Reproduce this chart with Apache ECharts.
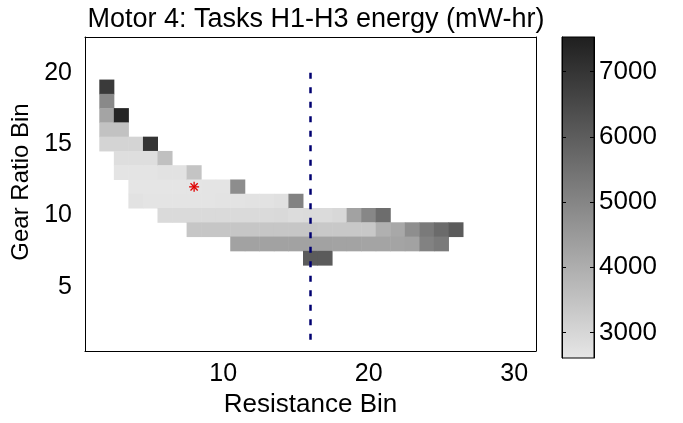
<!DOCTYPE html>
<html>
<head>
<meta charset="utf-8">
<script src="https://cdn.jsdelivr.net/npm/echarts@6/dist/echarts.min.js"></script>
<style>
  html, body { margin: 0; padding: 0; background: #fff; }
  #main { width: 683px; height: 423px; }
</style>
</head>
<body>
<div id="main"></div>
<script>
// bins
var xBins = ['1','2','3','4','5','6','7','8','9','10','11','12','13','14','15','16',
             '17','18','19','20','21','22','23','24','25','26','27','28','29','30','31'];
var yBins = ['1','2','3','4','5','6','7','8','9','10','11','12','13','14','15','16',
             '17','18','19','20','21','22'];
var xTicks = ['10', '20', '30'];
var yTicks = ['5', '10', '15', '20'];

// [resistance bin, gear ratio bin, energy mW-hr]
var energy = [
  [2,19,6850],[2,18,4920],[2,17,4230],[2,16,3500],[2,15,3050],
  [3,17,7380],[3,16,3500],[3,15,3050],[3,14,2810],[3,13,2660],
  [4,15,3050],[4,14,2810],[4,13,2660],[4,12,2640],[4,11,2700],
  [5,15,7010],[5,14,2810],[5,13,2660],[5,12,2640],[5,11,2660],
  [6,14,3550],[6,13,2700],[6,12,2640],[6,11,2660],[6,10,2900],
  [7,13,2700],[7,12,2640],[7,11,2660],[7,10,2900],
  [8,13,3450],[8,12,2640],[8,11,2660],[8,10,2900],[8,9,3400],
  [9,12,2650],[9,11,2670],[9,10,2900],[9,9,3400],
  [10,12,2670],[10,11,2680],[10,10,2900],[10,9,3400],
  [11,12,4820],[11,11,2690],[11,10,2900],[11,9,3400],[11,8,4280],
  [12,11,2700],[12,10,2900],[12,9,3400],[12,8,4280],
  [13,11,2710],[13,10,2910],[13,9,3400],[13,8,4280],
  [14,11,2760],[14,10,2920],[14,9,3400],[14,8,4280],
  [15,11,5070],[15,10,2860],[15,9,3400],[15,8,4280],
  [16,10,2880],[16,9,3400],[16,8,4280],[16,7,6050],
  [17,10,2890],[17,9,3350],[17,8,4280],[17,7,6050],
  [18,10,2950],[18,9,3350],[18,8,4260],
  [19,10,4280],[19,9,3350],[19,8,4260],
  [20,10,4970],[20,9,3350],[20,8,4250],
  [21,10,5610],[21,9,3940],[21,8,4250],
  [22,9,4140],[22,8,4250],
  [23,9,4780],[23,8,4280],
  [24,9,5270],[24,8,5070],
  [25,9,5660],[25,8,5270],
  [26,9,6050]
];

// colour limits and colorbar ticks
var cMin = 2609;
var cMax = 7529;
var cbarTicks = [3000, 4000, 5000, 6000, 7000];
var grays = ['#e6e6e6', '#1f1f1f'];

// optimum marker and the dashed limit line
var optimum = [['8', '12']];
var limitLine = [['16', '20'], ['16', '1']];

var font = 'Liberation Sans, Arial, sans-serif';

window.onload = function() {
  var myChart = echarts.init(document.getElementById('main'));

  var showX = function(idx, val) { return xTicks.indexOf(val) >= 0; };
  var showY = function(idx, val) { return yTicks.indexOf(val) >= 0; };

  var option = {
    animation: false,
    backgroundColor: '#fff',
    title: {
      text: 'Motor 4: Tasks H1-H3 energy (mW-hr)',
      left: 311, top: 1, textAlign: 'center',
      textStyle: { fontFamily: font, fontSize: 27, fontWeight: 'normal', color: '#000' }
    },
    grid: [
      { left: 85, top: 37, width: 451, height: 321 },
      { left: 562, top: 37, width: 32, height: 321, show: true, borderColor: '#000', borderWidth: 1, z: 4 }
    ],
    xAxis: [
      {
        type: 'category', data: xBins, gridIndex: 0, z: 5,
        name: 'Resistance Bin', nameLocation: 'middle', nameGap: 41,
        nameTextStyle: { fontFamily: font, fontSize: 26, color: '#000' },
        axisLine: { lineStyle: { color: '#000' } },
        axisTick: { inside: true, length: 5, alignWithLabel: true, interval: showX, lineStyle: { color: '#000' } },
        axisLabel: { interval: showX, margin: 11, fontFamily: font, fontSize: 25, color: '#000' },
        splitLine: { show: false }
      },
      {
        type: 'category', data: xBins, gridIndex: 0, position: 'top', z: 5,
        axisLine: { lineStyle: { color: '#000' } },
        axisTick: { inside: true, length: 5, alignWithLabel: true, interval: showX, lineStyle: { color: '#000' } },
        axisLabel: { show: false }
      },
      {
        type: 'value', gridIndex: 1, min: 0, max: 1, show: false
      }
    ],
    yAxis: [
      {
        type: 'category', data: yBins, gridIndex: 0, z: 5,
        name: 'Gear Ratio Bin', nameLocation: 'middle', nameGap: 47,
        nameTextStyle: { fontFamily: font, fontSize: 24, color: '#000', padding: [0, 0, 0, 24] },
        axisLine: { lineStyle: { color: '#000' } },
        axisTick: { inside: true, length: 5, alignWithLabel: true, interval: showY, lineStyle: { color: '#000' } },
        axisLabel: { interval: showY, margin: 13, fontFamily: font, fontSize: 25, color: '#000' },
        splitLine: { show: false }
      },
      {
        type: 'category', data: yBins, gridIndex: 0, position: 'right', z: 5,
        axisLine: { lineStyle: { color: '#000' } },
        axisTick: { inside: true, length: 5, alignWithLabel: true, interval: showY, lineStyle: { color: '#000' } },
        axisLabel: { show: false }
      },
      {
        type: 'value', gridIndex: 1, min: cMin, max: cMax, position: 'right', z: 5,
        axisLine: { show: true, onZero: false, lineStyle: { color: '#000' } },
        axisTick: { show: true, inside: true, length: 4, customValues: cbarTicks, lineStyle: { color: '#000' } },
        axisLabel: {
          customValues: cbarTicks, margin: 5, fontFamily: font, fontSize: 26, color: '#000',
          formatter: function(v) { return String(v); }
        },
        splitLine: { show: false }
      },
      {
        type: 'value', gridIndex: 1, min: cMin, max: cMax, position: 'left', z: 5,
        axisLine: { show: true, onZero: false, lineStyle: { color: '#000' } },
        axisTick: { show: true, inside: true, length: 4, customValues: cbarTicks, lineStyle: { color: '#000' } },
        axisLabel: { show: false },
        splitLine: { show: false }
      }
    ],
    visualMap: {
      type: 'continuous', show: false, seriesIndex: 0,
      min: cMin, max: cMax, inRange: { color: grays }
    },
    series: [
      {
        type: 'heatmap', xAxisIndex: 0, yAxisIndex: 0,
        data: energy.map(function(d) { return [String(d[0]), String(d[1]), d[2]]; }),
        itemStyle: { borderWidth: 0 },
        emphasis: { disabled: true }
      },
      {
        type: 'line', xAxisIndex: 0, yAxisIndex: 0,
        data: limitLine, symbol: 'none', z: 5,
        lineStyle: { color: '#000070', width: 2.5, type: [6, 8.5] }
      },
      {
        type: 'custom', xAxisIndex: 0, yAxisIndex: 0, z: 6,
        data: optimum,
        renderItem: function(params, api) {
          var p = api.coord([api.value(0), api.value(1)]);
          var r = 5, d = 3.6;
          var st = { stroke: '#e00000', lineWidth: 1.3 };
          return {
            type: 'group',
            children: [
              { type: 'line', shape: { x1: p[0] - r, y1: p[1], x2: p[0] + r, y2: p[1] }, style: st },
              { type: 'line', shape: { x1: p[0], y1: p[1] - r, x2: p[0], y2: p[1] + r }, style: st },
              { type: 'line', shape: { x1: p[0] - d, y1: p[1] - d, x2: p[0] + d, y2: p[1] + d }, style: st },
              { type: 'line', shape: { x1: p[0] - d, y1: p[1] + d, x2: p[0] + d, y2: p[1] - d }, style: st }
            ]
          };
        }
      },
      {
        type: 'custom', xAxisIndex: 2, yAxisIndex: 2, z: 0,
        data: [[0, cMin, 1, cMax]],
        renderItem: function(params, api) {
          var p0 = api.coord([api.value(0), api.value(1)]);
          var p1 = api.coord([api.value(2), api.value(3)]);
          return {
            type: 'rect',
            shape: { x: p0[0], y: p1[1], width: p1[0] - p0[0], height: p0[1] - p1[1] },
            style: {
              fill: new echarts.graphic.LinearGradient(0, 1, 0, 0, [
                { offset: 0, color: grays[0] },
                { offset: 1, color: grays[1] }
              ])
            }
          };
        }
      }
    ]
  };

  myChart.setOption(option);
};
</script>
</body>
</html>
